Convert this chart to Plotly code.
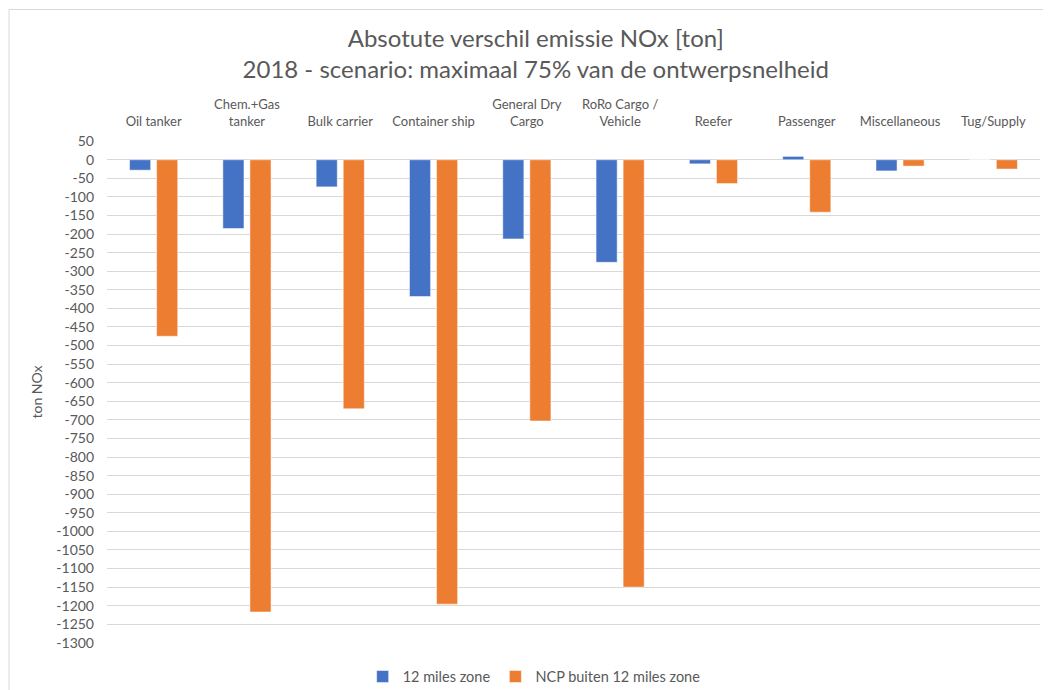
import plotly.graph_objects as go

# categorieën (scheepstypen)
categories = ['Oil tanker', 'Chem.+Gas<br>tanker', 'Bulk carrier', 'Container ship',
              'General Dry<br>Cargo', 'RoRo Cargo /<br>Vehicle', 'Reefer', 'Passenger',
              'Miscellaneous', 'Tug/Supply']

# absoluut verschil emissie NOx [ton]
zone_12_miles = [-28, -185, -73, -368, -213, -276, -11, 9, -30, 0]
ncp_buiten = [-475, -1217, -670, -1196, -703, -1150, -64, -141, -17, -25]

y_ticks = list(range(50, -1301, -50))

font_name = 'Lato'
grey = '#595959'

fig = go.Figure()
fig.add_trace(go.Bar(x=categories, y=zone_12_miles, name='12 miles zone',
                     marker=dict(color='#4472C4', line=dict(color='#FFFFFF', width=0.5))))
fig.add_trace(go.Bar(x=categories, y=ncp_buiten, name='NCP buiten 12 miles zone',
                     marker=dict(color='#ED7D31', line=dict(color='#FFFFFF', width=0.5))))

# de pagina heeft 8px body-marge, dus figuur iets kleiner
fig.update_layout(
    width=1043, height=682,
    plot_bgcolor='white',
    paper_bgcolor='white',
    font=dict(family=font_name, color=grey, size=13),
    title=dict(text='Absotute verschil emissie NOx [ton]<br>2018 - scenario: maximaal 75% van de ontwerpsnelheid',
               x=0.506, xanchor='center', y=0.943, yanchor='top',
               font=dict(family=font_name, size=24, color=grey)),
    barmode='group',
    bargap=0.42,
    bargroupgap=0.22,
    margin=dict(l=99, r=11, t=133, b=47, autoexpand=False),
    legend=dict(orientation='h', x=0.274, xanchor='left', y=-0.035, yanchor='top',
                font=dict(size=14.5, color=grey), itemwidth=30),
    showlegend=True,
)

fig.update_xaxes(side='top', showline=False, showgrid=False, ticks='', automargin=False,
                 ticklabelstandoff=11, tickfont=dict(size=13, color=grey))

fig.update_yaxes(range=[-1300.5, 50.5], tickvals=y_ticks, ticktext=[str(v) for v in y_ticks],
                 showgrid=True, gridcolor='#D9D9D9', gridwidth=1,
                 zeroline=True, zerolinecolor='#D9D9D9', zerolinewidth=1,
                 showline=False, ticks='', automargin=False, ticklabelstandoff=12,
                 title=dict(text='ton NOx', font=dict(size=14, color=grey), standoff=10),
                 tickfont=dict(size=14, color=grey))

# rand rond de grafiek
fig.add_shape(type='rect', xref='paper', yref='paper',
              x0=-0.105, x1=1.2, y0=-0.2, y1=1.262,
              line=dict(color='#D9D9D9', width=1), layer='below')

fig.write_html('out.html')
